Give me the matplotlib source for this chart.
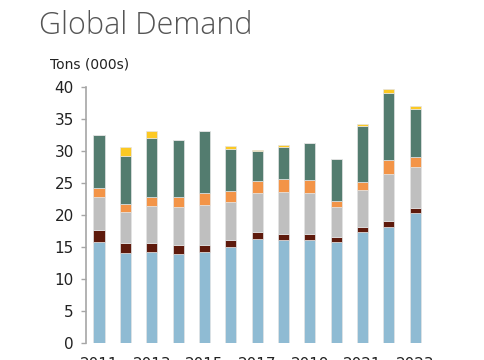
import numpy as np
import matplotlib
matplotlib.use('Agg')
import matplotlib.pyplot as plt

years = list(range(2011, 2024))
tick_years = [2011, 2013, 2015, 2017, 2019, 2021, 2023]

# segment values (tons, 000s), bottom to top
blue   = [15.8, 14.0, 14.3, 13.9, 14.2, 15.0, 16.2, 16.1, 16.1, 15.8, 17.4, 18.2, 20.3]
brown  = [1.9, 1.6, 1.3, 1.4, 1.1, 1.1, 1.1, 1.0, 1.0, 0.8, 0.8, 0.9, 0.8]
gray   = [5.2, 4.9, 5.8, 5.9, 6.3, 6.0, 6.1, 6.5, 6.3, 4.7, 5.7, 7.3, 6.4]
orange = [1.3, 1.3, 1.5, 1.7, 1.8, 1.7, 1.9, 2.0, 2.1, 0.9, 1.3, 2.2, 1.6]
green  = [8.3, 7.5, 9.2, 8.8, 9.7, 6.6, 4.7, 5.1, 5.7, 6.55, 8.8, 10.5, 7.5]
yellow = [0.0, 1.3, 1.0, 0.0, 0.0, 0.4, 0.1, 0.3, 0.0, 0.0, 0.2, 0.6, 0.5]

series = [blue, brown, gray, orange, green, yellow]
colors = ['#8fbbd3', '#5e1a0c', '#bfbfbf', '#f39447', '#537c6f', '#fcc924']

fig = plt.figure(figsize=(4.85, 3.6), dpi=100)
ax = fig.add_axes([0.177, 0.047, 0.706, 0.711])

x = np.arange(len(years))
bottom = np.zeros(len(years))
for vals, c in zip(series, colors):
    ax.bar(x, vals, bottom=bottom, width=0.42, color=c,
           edgecolor='#e4e4e4', linewidth=0.5)
    bottom += np.array(vals)

ax.set_xlim(-0.5, 12.5)
ax.set_ylim(0, 40)
ax.set_yticks(range(0, 41, 5))
ax.tick_params(axis='y', direction='out', length=3.6, width=1,
               color='#a6a6a6', labelsize=11, labelcolor='#222222', pad=5)
ax.set_xticks([years.index(y) for y in tick_years])
ax.set_xticklabels([str(y) for y in tick_years])
# the year labels sit partly below the bottom edge, as in the source image
ax.tick_params(axis='x', length=0, labelsize=11, labelcolor='#222222', pad=10)

for s in ['top', 'right', 'bottom']:
    ax.spines[s].set_visible(False)
ax.spines['left'].set_color('#a6a6a6')
ax.spines['left'].set_linewidth(1.2)

fig.text(0.08, 0.905, 'Global Demand', fontsize=22, color='#555555',
         fontfamily='Open Sans', fontweight='light')
fig.text(0.103, 0.81, 'Tons (000s)', fontsize=10, color='#222222')

fig.savefig('out.png', dpi=100)
